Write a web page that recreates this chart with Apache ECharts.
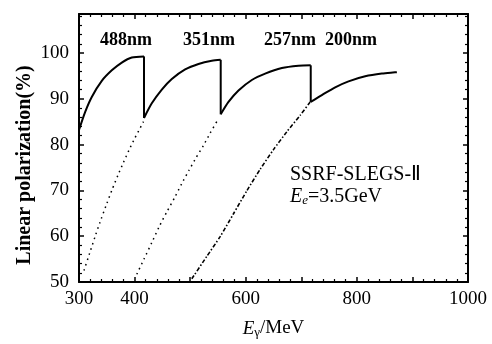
<!DOCTYPE html>
<html>
<head>
<meta charset="utf-8">
<script src="https://cdn.jsdelivr.net/npm/echarts@6/dist/echarts.min.js"></script>
<style>
html,body{margin:0;padding:0;background:#fff;}
#chart{width:492px;height:344px;}
</style>
</head>
<body>
<div id="chart"></div>
<script>
// ---- data ----
const xTickLabels = [300, 400, 600, 800, 1000];
const yTickLabels = [50, 60, 70, 80, 90, 100];

// solid envelope, one segment per laser wavelength
const seg488E = [300, 311, 323, 341, 359, 377, 395, 417];
const seg488P = [83.2, 87.1, 90.4, 93.9, 96.2, 97.9, 99.0, 99.25];
const seg351E = [417, 431, 449, 467, 491, 515, 539, 555];
const seg351P = [85.8, 89.0, 92.0, 94.3, 96.4, 97.6, 98.3, 98.5];
const seg257E = [555, 569, 587, 611, 635, 665, 695, 717];
const seg257P = [86.6, 89.3, 91.8, 94.1, 95.5, 96.7, 97.2, 97.3];
const seg200E = [717, 737, 761, 785, 815, 845, 872];
const seg200P = [89.3, 90.8, 92.5, 93.8, 94.9, 95.5, 95.8];

// lower continuations
const dot351E = [309, 320, 330, 340, 350, 360, 370, 380, 390, 400, 410, 416];
const dot351P = [52.5, 56.6, 60.3, 63.8, 67.1, 70.3, 73.3, 76.1, 78.8, 81.3, 83.6, 85.0];
const dot257E = [404, 417, 431, 444, 458, 472, 485, 498, 511, 524, 536, 548];
const dot257P = [51.7, 55.0, 58.6, 62.0, 65.3, 68.4, 71.5, 74.4, 77.2, 79.8, 82.5, 85.0];
const dash200E = [503, 530, 554, 578, 602, 626, 650, 674, 698, 716];
const dash200P = [50.7, 55.6, 59.9, 64.9, 69.9, 74.6, 78.9, 82.8, 86.4, 89.3];

const waveLabels = ['488nm', '351nm', '257nm', '200nm'];

// ---- build ----
const zip = (a, b) => a.map((v, i) => [v, b[i]]);
const segs = [[seg488E, seg488P], [seg351E, seg351P], [seg257E, seg257P], [seg200E, seg200P]];
const FONT = '"Liberation Serif", "Times New Roman", serif';

const series = [];
segs.forEach(([e, p]) => {
  series.push({type: 'line', data: zip(e, p), smooth: 0.25, showSymbol: false,
    lineStyle: {color: '#000', width: 2}, z: 5});
});
for (let i = 0; i < segs.length - 1; i++) {
  const a = segs[i], b = segs[i + 1];
  series.push({type: 'line', showSymbol: false, lineStyle: {color: '#000', width: 2}, z: 5,
    data: [[a[0][a[0].length - 1], a[1][a[1].length - 1]], [a[0][a[0].length - 1], b[1][0]]]});
}
series.push({type: 'line', data: zip(dot351E, dot351P), smooth: 0.2, showSymbol: false,
  lineStyle: {color: '#000', width: 1.5, type: [1.5, 4]}});
series.push({type: 'line', data: zip(dot257E, dot257P), smooth: 0.2, showSymbol: false,
  lineStyle: {color: '#000', width: 1.5, type: [1.5, 4]}});
series.push({type: 'line', data: zip(dash200E, dash200P), smooth: 0.2, showSymbol: false,
  lineStyle: {color: '#000', width: 1.6, type: [4, 2, 1.5, 2]}});

const labelX = [126, 209, 290, 351];

const axisCommon = {
  axisLine: {show: true, onZero: false, lineStyle: {color: '#000', width: 2}},
  axisTick: {show: true, inside: true, length: 5, lineStyle: {color: '#000', width: 1.5}},
  minorTick: {show: true, splitNumber: 5, length: 3, lineStyle: {color: '#000', width: 1.2}},
  splitLine: {show: false}
};

const option = {
  backgroundColor: '#fff',
  animation: false,
  grid: {left: 79, right: 24, top: 14, bottom: 58, containLabel: false},
  xAxis: [
    Object.assign({type: 'value', min: 300, max: 1000, interval: 100, position: 'bottom',
      name: '{i|E}{s|γ}{n|/MeV}', nameLocation: 'middle', nameGap: 36,
      nameTextStyle: {color: '#000', fontFamily: FONT, fontSize: 19,
        rich: {
          i: {fontStyle: 'italic', fontFamily: FONT, fontSize: 19, color: '#000'},
          s: {fontFamily: FONT, fontSize: 13, color: '#000', verticalAlign: 'bottom', padding: [8, 0, 0, 0]},
          n: {fontFamily: FONT, fontSize: 19, color: '#000'}
        }},
      axisLabel: {color: '#000', fontFamily: FONT, fontSize: 19, margin: 8,
        formatter: v => xTickLabels.includes(v) ? String(v) : ''}
    }, axisCommon),
    Object.assign({type: 'value', min: 300, max: 1000, interval: 100, position: 'top',
      axisLabel: {show: false}}, axisCommon)
  ],
  yAxis: [
    Object.assign({type: 'value', min: 50, max: 108.5, interval: 10, position: 'left',
      axisLabel: {color: '#000', fontFamily: FONT, fontSize: 19, margin: 10,
        formatter: v => yTickLabels.includes(v) ? String(v) : ''}
    }, axisCommon),
    Object.assign({type: 'value', min: 50, max: 108.5, interval: 10, position: 'right',
      axisLabel: {show: false}}, axisCommon)
  ],
  series: series,
  graphic: [
    ...waveLabels.map((t, i) => ({type: 'text', x: labelX[i], y: 40, z: 10,
      style: {text: t, fill: '#000', font: 'bold 18px ' + FONT, textAlign: 'center', textVerticalAlign: 'middle'}})),
    {type: 'text', x: 25, y: 165, rotation: Math.PI / 2, z: 10,
      style: {text: 'Linear polarization(%)', fill: '#000', font: 'bold 20px ' + FONT, textAlign: 'center', textVerticalAlign: 'middle'}},
    {type: 'text', x: 290, y: 175, z: 10,
      style: {text: 'SSRF-SLEGS-Ⅱ', fill: '#000', font: '20px ' + FONT, textAlign: 'left', textVerticalAlign: 'middle'}},
    {type: 'text', x: 290, y: 197, z: 10,
      style: {text: '{i|E}{s|e}{n|=3.5GeV}', fill: '#000', font: '20px ' + FONT, textAlign: 'left', textVerticalAlign: 'middle',
        rich: {
          i: {fontStyle: 'italic', fontFamily: FONT, fontSize: 20, fill: '#000'},
          s: {fontStyle: 'italic', fontFamily: FONT, fontSize: 13, fill: '#000', verticalAlign: 'bottom', padding: [8, 0, 0, 0]},
          n: {fontFamily: FONT, fontSize: 20, fill: '#000'}
        }}}
  ]
};

const chart = echarts.init(document.getElementById('chart'), null, {renderer: 'canvas'});
chart.setOption(option);
</script>
</body>
</html>
